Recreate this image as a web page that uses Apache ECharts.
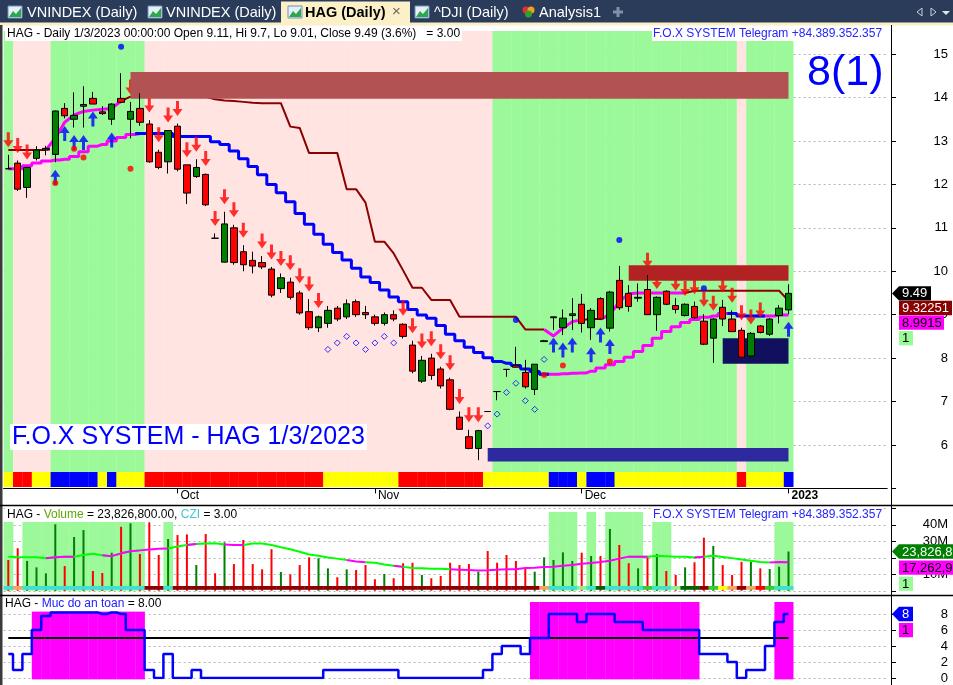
<!DOCTYPE html>
<html><head><meta charset="utf-8">
<script src="https://cdn.jsdelivr.net/npm/echarts@6/dist/echarts.min.js"></script>
<style>html,body{margin:0;padding:0;background:#fff;overflow:hidden}#c{width:953px;height:685px}</style>
</head><body><div id="c"></div>
<script>
// ---------------- DATA ----------------
const dates = [
'2022-09-07','2022-09-08','2022-09-09','2022-09-12','2022-09-13','2022-09-14','2022-09-15','2022-09-16','2022-09-19','2022-09-20','2022-09-21','2022-09-22','2022-09-23','2022-09-26','2022-09-27','2022-09-28','2022-09-29','2022-09-30',
'2022-10-03','2022-10-04','2022-10-05','2022-10-06','2022-10-07','2022-10-10','2022-10-11','2022-10-12','2022-10-13','2022-10-14','2022-10-17','2022-10-18','2022-10-19','2022-10-20','2022-10-21','2022-10-24','2022-10-25','2022-10-26','2022-10-27','2022-10-28','2022-10-31',
'2022-11-01','2022-11-02','2022-11-03','2022-11-04','2022-11-07','2022-11-08','2022-11-09','2022-11-10','2022-11-11','2022-11-14','2022-11-15','2022-11-16','2022-11-17','2022-11-18','2022-11-21','2022-11-22','2022-11-23','2022-11-24','2022-11-25','2022-11-28','2022-11-29','2022-11-30',
'2022-12-01','2022-12-02','2022-12-05','2022-12-06','2022-12-07','2022-12-08','2022-12-09','2022-12-12','2022-12-13','2022-12-14','2022-12-15','2022-12-16','2022-12-19','2022-12-20','2022-12-21','2022-12-22','2022-12-23','2022-12-26','2022-12-27','2022-12-28','2022-12-29','2022-12-30',
'2023-01-03'];
const monthNames = ['Jan','Feb','Mar','Apr','May','Jun','Jul','Aug','Sep','Oct','Nov','Dec'];

const open  = [12.36,12.49,11.93,12.60,12.79,12.69,13.75,13.50,13.80,13.98,13.67,13.50,13.98,13.50,13.75,13.39,12.74,12.52,13.34,12.45,12.18,12.23,10.76,10.21,11.00,10.45,10.25,10.20,10.05,9.60,9.75,9.50,9.07,8.70,8.80,9.15,8.95,9.30,9.05,8.95,8.80,9.00,8.78,8.30,7.47,8.00,7.75,7.50,6.64,6.19,5.92,6.77,7.23,7.74,7.83,7.67,7.28,8.38,8.93,8.70,8.98,9.24,8.70,9.37,8.69,9.79,9.49,9.38,9.58,9.00,9.54,9.21,8.98,9.19,8.85,8.46,9.17,8.90,8.64,8.05,8.74,8.55,8.98,9.11];
const high  = [12.68,12.55,12.40,12.88,12.89,13.70,13.87,14.12,14.26,14.13,13.80,13.87,14.56,13.90,14.10,13.48,12.80,13.25,13.40,12.45,12.58,12.25,10.87,11.37,11.07,10.60,10.45,10.35,10.10,9.95,9.85,9.55,9.36,8.98,9.20,9.20,9.35,9.35,9.20,9.00,9.05,9.10,8.80,8.40,8.05,8.10,7.80,7.55,6.77,6.35,6.35,6.77,7.23,7.74,8.26,7.96,7.86,8.42,8.95,9.12,9.38,9.48,9.15,9.40,9.55,10.12,9.68,9.72,9.91,9.42,9.56,9.38,9.26,9.30,9.01,8.92,9.34,9.10,8.70,8.60,8.76,8.92,9.22,9.70];
const low   = [12.36,11.85,11.69,12.55,12.67,12.51,13.52,13.31,13.31,13.85,13.60,13.37,13.87,13.06,13.35,12.50,12.35,12.25,12.30,11.55,12.15,11.50,10.76,10.20,10.15,10.00,9.95,10.05,9.40,9.50,9.35,9.00,8.65,8.60,8.70,8.85,8.90,8.95,8.90,8.75,8.75,8.85,8.45,7.65,7.43,7.50,7.30,6.80,6.36,5.90,5.65,6.77,7.03,7.57,7.78,7.30,7.15,8.38,8.65,8.53,8.65,8.59,8.42,8.88,8.61,9.11,9.07,9.30,9.00,8.63,9.22,9.03,8.96,8.90,8.30,7.89,8.74,8.60,8.00,8.02,8.57,8.51,8.80,9.01];
const close = [12.36,11.89,12.39,12.79,12.83,13.69,13.58,13.59,13.84,13.85,13.63,13.85,13.89,13.68,13.43,12.52,12.39,13.24,12.35,11.80,12.39,11.53,10.76,11.09,10.20,10.15,10.12,10.10,9.45,9.85,9.40,9.04,8.70,8.95,9.10,8.90,9.25,9.00,9.00,8.80,9.00,8.90,8.50,7.70,7.95,7.60,7.36,6.82,6.36,5.92,6.33,6.77,7.23,7.74,7.79,7.34,7.86,8.40,8.95,8.92,9.02,8.80,9.10,8.90,9.52,9.16,9.19,9.40,9.00,9.40,9.24,9.12,9.24,8.93,8.32,8.90,8.90,8.61,8.02,8.57,8.59,8.90,9.15,9.49];

// run-length helper for per-bar codes: [[code, count], ...]
const runs = r => r.flatMap(([c,n]) => Array(n).fill(c));

const upperLine = [12.79,12.79,12.79,12.79,12.79,13.07,13.43,13.60,13.68,13.71,13.73,13.75,13.92,14.02,14.02,14.02,14.02,14.02,14.02,14.02,14.02,14.02,13.96,13.93,13.92,13.90,13.88,13.87,13.87,13.87,13.33,13.30,12.72,12.72,12.72,12.72,11.89,11.89,11.58,10.68,10.68,10.41,10.02,9.62,9.62,9.34,9.34,9.34,8.95,8.95,8.95,8.95,8.95,8.95,8.95,8.66,8.66,8.66,8.51,8.69,8.84,8.88,8.90,8.90,9.00,9.30,9.48,9.50,9.50,9.50,9.50,9.50,9.50,9.55,9.55,9.55,9.55,9.55,9.55,9.55,9.55,9.55,9.55,9.32251];
const upperCode = runs([['b',5],['m',8],['b',45],['m',4],['b',2],['m',9],['b',11]]);
const lowerLine = [12.36,12.36,12.43,12.49,12.54,12.56,12.58,12.64,12.75,12.88,12.92,13.00,13.08,13.15,13.17,13.17,13.17,13.17,13.10,13.10,13.10,13.10,12.98,12.92,12.77,12.59,12.41,12.22,12.00,11.81,11.60,11.33,11.08,10.85,10.62,10.43,10.26,10.07,9.87,9.74,9.57,9.41,9.30,9.12,8.99,8.92,8.75,8.55,8.40,8.25,8.13,8.01,7.92,7.88,7.83,7.75,7.69,7.63,7.63,7.64,7.65,7.66,7.70,7.77,7.85,7.92,8.02,8.15,8.29,8.46,8.61,8.72,8.82,8.89,8.94,8.97,9.03,9.03,8.97,8.97,8.97,8.97,8.99,8.9915];
const lowerCode = runs([['m',15],['u',43],['m',20],['u',3],['m',3]]);

const sellSignals = [0,1,2,13,15,16,17,18,19,20,21,22,23,24,25,27,28,29,30,31,32,33,42,43,44,45,46,47,48,49,50,68,69,71,72,73,74,75,76,77,78,79,80];
const buySignals  = [5,6,7,8,9,11,58,59,60,62,63,64,83];
const redDots  = [[5,12.03],[7,12.82],[8,12.62],[13,12.36],[57,7.61],[59,7.83],[64,7.92]];
const blueDots = [[12,15.17],[54,8.88],[65,10.72],[74,9.61]];
const hollowDiamonds = [[34,8.20],[35,8.35],[36,8.50],[37,8.35],[38,8.20],[39,8.35],[40,8.50],[41,8.35],[51,6.44],[52,6.71],[53,7.21],[54,7.42],[55,7.02],[56,6.82],[57,7.97]];
const zones = [[13,83,13.97,14.59],[66,83,9.78,10.14],[76,83,7.87,8.46],[51,83,5.62,5.93]];

const bgZone = runs([['G',1],['P',4],['G',10],['P',37],['G',26],['P',1],['G',5]]);
const ribbon = runs([['Y',1],['R',2],['Y',2],['B',5],['Y',1],['B',1],['Y',3],['R',19],['Y',8],['R',9],['Y',7],['B',3],['Y',1],['B',3],['Y',13],['R',1],['Y',4],['B',1]]);

const volume = [18.7,25.8,18.1,14.2,10.6,40.3,15.0,32.6,36.8,12.0,10.8,23.1,38.8,40.9,22.3,41.5,21.7,31.4,33.8,34.2,15.6,34.4,10.6,29.4,16.2,30.8,16.2,13.0,25.2,11.4,10.0,15.6,20.3,19.7,13.6,8.2,13.0,12.6,15.6,7.0,10.2,7.6,16.7,17.0,9.6,7.6,9.0,17.0,15.6,16.2,11.6,24.1,17.0,21.7,18.1,13.2,11.6,20.3,18.7,23.3,18.1,23.1,21.1,21.1,37.5,27.8,16.7,13.6,20.3,22.3,12.0,9.6,14.2,17.3,32.2,27.2,15.6,9.6,17.6,17.6,13.6,13.2,14.6,23.8268];
const volMA  = [20.7,20.5,20.4,20.3,19.8,20.3,20.7,20.7,21.7,22.5,21.6,21.0,22.7,24.0,24.5,25.1,25.5,25.7,26.8,27.8,28.4,28.6,28.8,28.0,27.8,27.8,28.6,28.6,27.8,26.4,25.2,23.7,22.0,21.2,20.2,19.5,18.7,17.8,17.3,17.0,16.0,15.2,14.5,13.8,13.6,13.4,13.3,13.0,12.8,12.6,12.3,12.4,12.8,13.0,13.0,13.8,14.0,14.4,14.6,15.2,15.7,16.4,16.9,17.4,18.2,19.5,20.7,20.7,20.7,21.2,21.0,20.7,20.7,20.2,20.7,21.2,20.5,19.8,19.0,18.2,17.5,17.2,17.4,17.26296];
const volMAPinkBars = [5,7,11,13,15,16,17,20,24,25,37,38,42,48,49,50,51,52,53,54,55,56,57,58,59,60,61,62,63,64,65,66,68,74,82,83];
const volBg = [41.9,null,41.9,41.9,41.9,41.9,41.9,41.9,41.9,41.9,41.9,41.9,41.9,41.9,41.9,null,null,41.9,null,null,null,null,null,null,null,null,null,null,null,null,null,null,null,null,null,null,null,null,null,null,null,null,null,null,null,null,null,null,null,null,null,null,null,null,null,null,null,null,47.8,47.8,47.8,null,47.8,null,47.8,47.8,47.8,47.8,null,47.8,47.8,null,null,null,null,null,null,null,null,null,null,null,41.9,41.9];
const cziCode = runs([['c',1],['o',1],['c',13],['d',2],['c',1],['d',39],['o',1],['c',3],['l',1],['c',1],['G',1],['c',4],['g',1],['c',2],['l',1],['G',2],['d',1],['g',1],['y',1],['o',1],['d',1],['o',1],['r',1],['g',1],['c',2]]);

const safety = [3,1,3,6,7.75,8.2,8.2,8.2,8.2,8.2,8,8.2,8,6,6,1,0,3,0,0,1,0,0,0,0,0,0,0,0,0,0,0,0,0,1,1,1,1,1,1,1,1,0,0,0,0,0,0,0,0,0,1,3,4,4,3,5,5,8,8,8,7,8,8,8,7,7,7,6,6,6,6,6,6,3,3,3,2,0,1,1,4,7,8];
const safetyLevel = 5;
const safetyBg = [null,null,null,8.3,8.3,8.3,8.3,8.3,8.3,8.3,8.3,8.3,8.3,8.3,8.3,null,null,null,null,null,null,null,null,null,null,null,null,null,null,null,null,null,null,null,null,null,null,null,null,null,null,null,null,null,null,null,null,null,null,null,null,null,null,null,null,null,9.5,9.5,9.5,9.5,9.5,9.5,9.5,9.5,9.5,9.5,9.5,9.5,9.5,9.5,9.5,9.5,9.5,9.5,null,null,null,null,null,null,null,null,9.5,9.5];

const priceTicks = [6,7,8,9,10,11,12,13,14,15];
const volTicks = [10,30,40];
const safetyTicks = [0,2,4,6,8];

// ---------------- STYLE ----------------
const FONT = 'Liberation Sans, Arial, sans-serif';
const BG_COL = {G:'#9cf99a', P:'#ffe4e1'};
const RIB_COL = {Y:'#ffff00', R:'#ff0000', B:'#0000ff'};
const CZI_COL = {c:'#40e0d0', o:'#f4a460', d:'#8b0000', l:'#90ee90', G:'#006400', g:'#32cd32', y:'#ffff00', r:'#ff0000'};
const ZONE_COL = ['#b35252','#b22222','#10105e','#2d2a9f'];
const N = dates.length, PAD = 10;
const volMACode = dates.map((d,i)=> volMAPinkBars.indexOf(i)>=0 ? 'm' : 'g');
const cats = dates.concat(Array.from({length:PAD},(_,k)=>'pad'+k));
const isMonthStart = i => i>0 && i<N && dates[i].slice(5,7)!==dates[i-1].slice(5,7);
const monthLabel = i => { const m = +dates[i].slice(5,7); return m===1 ? '{y|'+dates[i].slice(0,4)+'}' : monthNames[m-1]; };

const GL = 3.6, GW = 883.6;
const G0 = {left:GL, top:31, width:GW, height:457.4};
const G1 = {left:GL, top:507, width:GW, height:83.8};
const G2 = {left:GL, top:602, width:GW, height:76};

function xAx(gi, show){
  return {type:'category', gridIndex:gi, data:cats, boundaryGap:true,
    axisLine:{show:show, lineStyle:{color:'#000', width:1}},
    axisTick:{show:show, alignWithLabel:true, length:5, lineStyle:{color:'#000'}, interval:(i)=>isMonthStart(i)},
    axisLabel:{show:show, interval:(i)=>isMonthStart(i), formatter:(v,i)=>monthLabel(i), align:'left', padding:[0,0,0,3], margin:1,
      color:'#000', fontSize:12, fontFamily:FONT, rich:{y:{fontWeight:'bold', fontSize:12, fontFamily:FONT, color:'#000'}}},
    splitLine:{show:false}};
}
function yAx(gi, min, max, interval, ticks, fmt){
  return {type:'value', gridIndex:gi, position:'right', offset:3.8, min, max, interval,
    axisLine:{show:true, lineStyle:{color:'#000'}},
    axisTick:{show:true, length:5, lineStyle:{color:'#000'}},
    axisLabel:{show:true, align:'right', margin:57, color:'#000', fontSize:13, fontFamily:FONT,
      formatter:(v)=> ticks.indexOf(v)>=0 ? fmt(v) : '', showMinLabel:true, showMaxLabel:false},
    splitLine:{show:true, showMinLine:true, showMaxLine:false, lineStyle:{color:'#b4b4b4', type:[2,3], width:1}}};
}

function bandRender(codes, palette, heightFn){
  return function(params, api){
    const i = api.value(0);
    const cs = params.coordSys;
    const x = api.coord([i, 0])[0], w = api.size([1,0])[0];
    const r = heightFn(cs);
    return {type:'rect', shape:{x:x-w/2, y:r[0], width:w+0.3, height:r[1]}, style:{fill:palette[codes[i]]}};
  };
}
function colBarRender(vals, color, bottomVal){
  return function(params, api){
    const i = api.value(0);
    const v = vals[i];
    const w = api.size([1,0])[0];
    const p1 = api.coord([i, v]), p0 = api.coord([i, bottomVal]);
    return {type:'rect', shape:{x:p1[0]-w/2, y:p1[1], width:w+0.3, height:p0[1]-p1[1]}, style:{fill:color}};
  };
}
function segData(vals, codes, c){
  return vals.map((v,i)=> (codes[i]===c || codes[i+1]===c) ? [i, v] : [i, null]);
}
const idx = dates.map((d,i)=>i);
const downArrow = 'path://M3.5,0 L6.5,0 L6.5,8 L10,8 L5,15 L0,8 L3.5,8 Z';
const upArrow = 'path://M5,0 L10,7 L6.5,7 L6.5,15 L3.5,15 L3.5,7 L0,7 Z';

const option = {
  animation:false,
  textStyle:{fontFamily:FONT},
  grid:[G0,G1,G2].map(g=>Object.assign({containLabel:false}, g)),
  xAxis:[xAx(0,true), xAx(1,false), xAx(2,false)],
  yAxis:[
    yAx(0, 5, 15.532, 1, priceTicks, v=>String(v)),
    yAx(1, 0, 50.79, 10, volTicks, v=>v+'M'),
    yAx(2, 0, 9.5, 2, safetyTicks, v=>String(v))
  ],
  series:[
    {type:'custom', xAxisIndex:0, yAxisIndex:0, z:1, silent:true, data:idx.map(i=>[i]),
      renderItem:bandRender(bgZone, BG_COL, cs=>[cs.y, cs.height-16.4])},
    {type:'custom', xAxisIndex:0, yAxisIndex:0, z:1, silent:true, data:idx.map(i=>[i]),
      renderItem:bandRender(ribbon, RIB_COL, cs=>[cs.y+cs.height-16.4, 15])},
    {type:'line', xAxisIndex:0, yAxisIndex:0, z:2, silent:true, symbol:'none', data:segData(upperLine, upperCode, 'b'), lineStyle:{color:'#8b0000', width:2}},
    {type:'line', xAxisIndex:0, yAxisIndex:0, z:2, silent:true, symbol:'none', data:segData(upperLine, upperCode, 'm'), lineStyle:{color:'#ff00ff', width:3}},
    {type:'line', xAxisIndex:0, yAxisIndex:0, z:2, silent:true, symbol:'none', step:'middle', data:segData(lowerLine, lowerCode, 'm'), lineStyle:{color:'#ff00ff', width:3}},
    {type:'line', xAxisIndex:0, yAxisIndex:0, z:2, silent:true, symbol:'none', step:'middle', data:segData(lowerLine, lowerCode, 'u'), lineStyle:{color:'#0000ff', width:3}},
    {type:'scatter', xAxisIndex:0, yAxisIndex:0, z:3, silent:true, symbol:downArrow, symbolSize:[10,15], symbolOffset:[0,-15],
      data:sellSignals.map(i=>[i, high[i]]), itemStyle:{color:'#ff0000'}},
    {type:'scatter', xAxisIndex:0, yAxisIndex:0, z:3, silent:true, symbol:upArrow, symbolSize:[10,15], symbolOffset:[0,15],
      data:buySignals.map(i=>[i, low[i]]), itemStyle:{color:'#0000ff'}},
    {type:'scatter', xAxisIndex:0, yAxisIndex:0, z:3, silent:true, symbol:'circle', symbolSize:6, data:redDots, itemStyle:{color:'#ff0000'}},
    {type:'scatter', xAxisIndex:0, yAxisIndex:0, z:3, silent:true, symbol:'circle', symbolSize:6, data:blueDots, itemStyle:{color:'#0000ff'}},
    {type:'scatter', xAxisIndex:0, yAxisIndex:0, z:3, silent:true, symbol:'diamond', symbolSize:6, data:hollowDiamonds, itemStyle:{color:'rgba(0,0,0,0)', borderColor:'#0000ff', borderWidth:1}},
    {type:'custom', xAxisIndex:0, yAxisIndex:0, z:4, silent:true, data:zones,
      renderItem:(params, api)=>{
        const a = api.coord([api.value(0), api.value(3)]), b = api.coord([api.value(1), api.value(2)]);
        return {type:'rect', shape:{x:a[0], y:a[1], width:b[0]-a[0], height:b[1]-a[1]}, style:{fill:ZONE_COL[params.dataIndex]}};
      }},
    {type:'candlestick', xAxisIndex:0, yAxisIndex:0, z:5, silent:true, barWidth:7,
      data:idx.map(i=>[open[i], close[i], low[i], high[i]]),
      itemStyle:{color:'#008000', color0:'#ff0000', borderColor:'#000', borderColor0:'#000', borderColorDoji:'#000', borderWidth:1}},

    {type:'custom', xAxisIndex:1, yAxisIndex:1, z:1, silent:true, data:idx.filter(i=>volBg[i]!=null).map(i=>[i]),
      renderItem:colBarRender(volBg, '#9cf99a', 0)},
    {type:'bar', xAxisIndex:1, yAxisIndex:1, z:3, silent:true, barWidth:2, data:volume,
      itemStyle:{color:(p)=> close[p.dataIndex]>open[p.dataIndex] ? '#008000' : '#ff0000'}},
    {type:'line', xAxisIndex:1, yAxisIndex:1, z:4, silent:true, symbol:'none', data:segData(volMA, volMACode, 'g'), lineStyle:{color:'#00ff00', width:2}},
    {type:'line', xAxisIndex:1, yAxisIndex:1, z:4, silent:true, symbol:'none', data:segData(volMA, volMACode, 'm'), lineStyle:{color:'#ff00ff', width:2}},
    {type:'custom', xAxisIndex:1, yAxisIndex:1, z:5, silent:true, data:idx.map(i=>[i]),
      renderItem:bandRender(cziCode, CZI_COL, cs=>[cs.y+cs.height-4.8, 3.8])},

    {type:'custom', xAxisIndex:2, yAxisIndex:2, z:1, silent:true, data:idx.filter(i=>safetyBg[i]!=null).map(i=>[i]),
      renderItem:colBarRender(safetyBg, '#ff00ff', -0.17)},
    {type:'line', xAxisIndex:2, yAxisIndex:2, z:3, silent:true, symbol:'none', data:idx.map(()=>safetyLevel), lineStyle:{color:'#000', width:2}},
    {type:'line', xAxisIndex:2, yAxisIndex:2, z:4, silent:true, symbol:'none', step:'middle', data:safety, lineStyle:{color:'#0000ff', width:2.5}}
  ]
};

const chart = echarts.init(document.getElementById('c'), null, {renderer:'canvas', width:953, height:685});
chart.setOption(option);

// ---------------- GRAPHICS ----------------
function tag(x, y, w, txt, bg, fg, arrow){
  const h = 14.3, els = [];
  if (arrow) els.push({type:'polygon', shape:{points:[[892,y],[899,y-h/2],[x+w,y-h/2],[x+w,y+h/2],[899,y+h/2]]}, style:{fill:bg}, z:100});
  else els.push({type:'rect', shape:{x:x, y:y-h/2, width:w, height:h}, style:{fill:bg}, z:100});
  els.push({type:'text', x:x+3, y:y+0.5, style:{text:txt, fill:fg, font:'13px '+FONT, textVerticalAlign:'middle'}, z:101});
  return els;
}
const lastI = N-1;
const yClose = chart.convertToPixel({yAxisIndex:0}, close[lastI]);
const yVol = chart.convertToPixel({yAxisIndex:1}, volume[lastI]);
const ySafe = chart.convertToPixel({yAxisIndex:2}, safety[lastI]);
const fmtVol = v => Math.round(v*1e6).toLocaleString('en-US');
const H = 14.6;

const g = [];
g.push({type:'rect', shape:{x:0,y:0,width:953,height:24}, style:{fill:'#2b3c5a'}, z:90});
g.push({type:'rect', shape:{x:0,y:22.5,width:953,height:3}, style:{fill:'#fbefc6'}, z:91});
g.push({type:'rect', shape:{x:281,y:1.5,width:129,height:23}, style:{fill:'#fcf0c8'}, z:91});
function icon(x){
  return [{type:'rect', shape:{x:x,y:6,width:14,height:12}, style:{fill:'#e6eef8', stroke:'#6f8fc0', lineWidth:1}, z:92},
          {type:'polygon', shape:{points:[[x+1,17],[x+5,11],[x+8,14],[x+13,8],[x+13,17]]}, style:{fill:'#2aa84a'}, z:93}];
}
[8,148,288,415].forEach(x=>icon(x).forEach(e=>g.push(e)));
const tabFont = '14.5px '+FONT;
g.push({type:'text', x:27, y:12.5, style:{text:'VNINDEX (Daily)', fill:'#fff', font:tabFont, textVerticalAlign:'middle'}, z:93});
g.push({type:'text', x:166, y:12.5, style:{text:'VNINDEX (Daily)', fill:'#fff', font:tabFont, textVerticalAlign:'middle'}, z:93});
g.push({type:'text', x:305, y:12.5, style:{text:'HAG (Daily)', fill:'#000', font:'bold '+tabFont, textVerticalAlign:'middle'}, z:93});
g.push({type:'text', x:392, y:12, style:{text:'×', fill:'#666', font:'15px '+FONT, textVerticalAlign:'middle'}, z:93});
g.push({type:'text', x:434, y:12.5, style:{text:'^DJI (Daily)', fill:'#fff', font:tabFont, textVerticalAlign:'middle'}, z:93});
g.push({type:'circle', shape:{cx:526,cy:10,r:3.5}, style:{fill:'#e03030'}, z:93});
g.push({type:'circle', shape:{cx:531,cy:10,r:3.5}, style:{fill:'#f0a020'}, z:93});
g.push({type:'circle', shape:{cx:528.5,cy:14,r:3.5}, style:{fill:'#30a030'}, z:93});
g.push({type:'text', x:539, y:12.5, style:{text:'Analysis1', fill:'#fff', font:tabFont, textVerticalAlign:'middle'}, z:93});
g.push({type:'polyline', shape:{points:[[613,12],[623,12]]}, style:{stroke:'#8090a8', lineWidth:3}, z:93});
g.push({type:'polyline', shape:{points:[[618,7],[618,17]]}, style:{stroke:'#8090a8', lineWidth:3}, z:93});
g.push({type:'polygon', shape:{points:[[917,12],[922,8],[922,16]]}, style:{fill:'none', stroke:'#c8d0dc', lineWidth:1}, z:93});
g.push({type:'polygon', shape:{points:[[936,12],[931,8],[931,16]]}, style:{fill:'none', stroke:'#c8d0dc', lineWidth:1}, z:93});
g.push({type:'polygon', shape:{points:[[942,11],[950,11],[946,15]]}, style:{fill:'#e0e6ee'}, z:93});
g.push({type:'rect', shape:{x:0,y:25,width:2.5,height:660}, style:{fill:'#3a3a3a'}, z:95});
g.push({type:'line', shape:{x1:891.5,y1:25,x2:891.5,y2:685}, style:{stroke:'#000', lineWidth:1}, z:95});
g.push({type:'line', shape:{x1:0,y1:505.5,x2:953,y2:505.5}, style:{stroke:'#000', lineWidth:1.5}, z:95});
g.push({type:'line', shape:{x1:0,y1:595.5,x2:953,y2:595.5}, style:{stroke:'#000', lineWidth:1.5}, z:95});
g.push({type:'text', x:5, y:27, style:{text:'HAG - Daily 1/3/2023 00:00:00 Open 9.11, Hi 9.7, Lo 9.01, Close 9.49 (3.6%)   = 3.00', fill:'#000', font:'12px '+FONT, backgroundColor:'#fff', padding:[1,2,1,2]}, z:96});
g.push({type:'text', x:652, y:27, style:{text:'F.O.X SYSTEM Telegram +84.389.352.357', fill:'#2424ff', font:'12px '+FONT, backgroundColor:'#fff', padding:[1,1,1,1]}, z:96});
g.push({type:'text', x:807, y:52, style:{text:'8(1)', fill:'#0000ff', font:'43px '+FONT}, z:96});
g.push({type:'text', x:10, y:424, style:{text:'F.O.X SYSTEM - HAG 1/3/2023', fill:'#0000ff', font:'25px '+FONT, backgroundColor:'#fff', padding:[1,2,0,2]}, z:96});
g.push({type:'text', x:5, y:508, style:{rich:{k:{fill:'#000', font:'12px '+FONT}, v:{fill:'#5ea800', font:'12px '+FONT}, c:{fill:'#40c8d0', font:'12px '+FONT}},
  text:'{k|HAG - }{v|Volume}{k| = '+fmtVol(volume[lastI])+'.00, }{c|CZI}{k| = 3.00}', backgroundColor:'#fff', padding:[1,2,1,2]}, z:96});
g.push({type:'text', x:652, y:508, style:{text:'F.O.X SYSTEM Telegram +84.389.352.357', fill:'#2424ff', font:'12px '+FONT, backgroundColor:'#fff', padding:[1,1,1,1]}, z:96});
g.push({type:'text', x:5, y:598, style:{rich:{k:{fill:'#000', font:'12px '+FONT}, b:{fill:'#2020ff', font:'12px '+FONT}},
  text:'{k|HAG - }{b|Muc do an toan}{k| = '+safety[lastI].toFixed(2)+'}'}, z:96});
tag(899, yClose, 32, close[lastI].toFixed(2), '#000', '#fff', true).forEach(e=>g.push(e));
tag(899, yClose+H, 53, String(upperLine[lastI]), '#8b0000', '#fff', false).forEach(e=>g.push(e));
tag(899, yClose+2*H, 45, String(lowerLine[lastI]), '#ff00ff', '#000', false).forEach(e=>g.push(e));
tag(899, yClose+3*H+1, 14, '1', '#98fb98', '#000', false).forEach(e=>g.push(e));
tag(899, yVol, 60, fmtVol(volume[lastI]), '#008000', '#fff', true).forEach(e=>g.push(e));
tag(899, yVol+H+1.5, 60, fmtVol(volMA[lastI]), '#ff00ff', '#000', false).forEach(e=>g.push(e));
tag(899, yVol+2*H+3, 14, '1', '#98fb98', '#000', false).forEach(e=>g.push(e));
tag(899, ySafe, 14, String(safety[lastI]), '#0000ff', '#fff', true).forEach(e=>g.push(e));
tag(899, ySafe+H+1.5, 14, '1', '#ff00ff', '#000', false).forEach(e=>g.push(e));
chart.setOption({graphic:{elements:g}});
</script></body></html>
